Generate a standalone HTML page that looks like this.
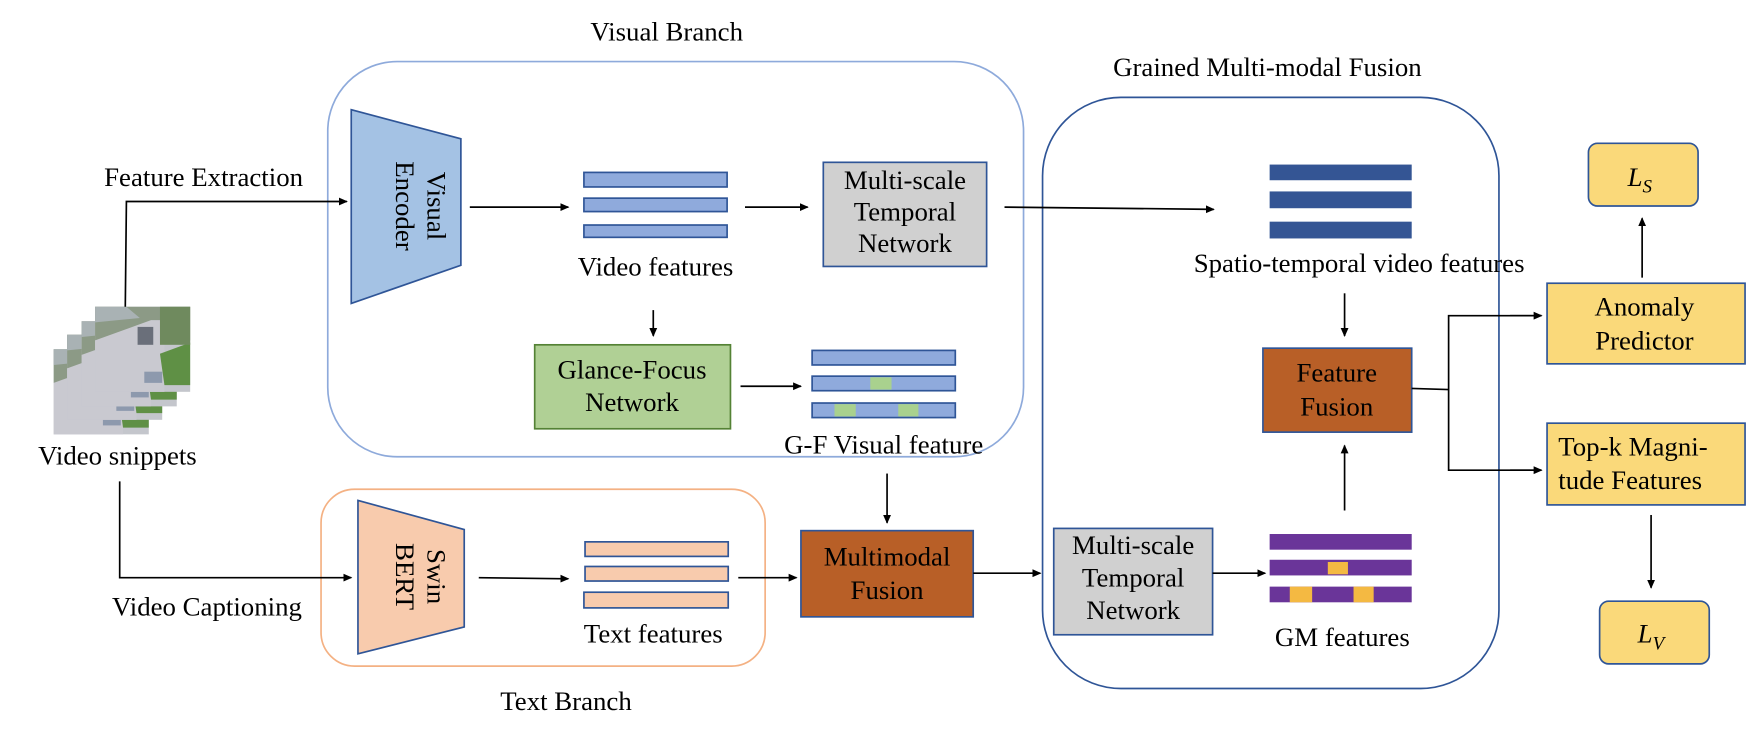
<!DOCTYPE html>
<html><head><meta charset="utf-8"><style>
html,body{margin:0;padding:0;background:#fff;}
svg{display:block;}
text{font-family:"Liberation Serif",serif;font-size:24px;fill:#000;}
</style></head><body>
<svg width="1754" height="740" viewBox="0 0 1568 661" preserveAspectRatio="none" xmlns="http://www.w3.org/2000/svg">
<defs>
<marker id="a" markerWidth="8" markerHeight="8" refX="7" refY="4" orient="auto" markerUnits="userSpaceOnUse"><path d="M0,0.5 L8,4 L0,7.5 Z" fill="#000"/></marker>
<g id="frame">
<rect x="0" y="0" width="85" height="76" fill="#c4c6cc"/>
<rect x="0" y="0" width="85" height="30" fill="#8c9a86"/>
<polygon points="0,0 28,0 40,10 0,14" fill="#a9b2b4"/>
<polygon points="0,30 50,12 62,12 62,76 0,76" fill="#c9c9d0"/>
<polygon points="58,42 85,32 85,70 62,70" fill="#5f9045"/>
<rect x="58" y="0" width="27" height="34" fill="#6f8a5e"/>
<rect x="38" y="18" width="14" height="16" fill="#6a6f7a"/>
<rect x="44" y="58" width="16" height="10" fill="#8d99ad"/>
</g>
</defs>
<!-- headers -->
<text x="596" y="36" text-anchor="middle">Visual Branch</text>
<text x="1133" y="68" text-anchor="middle">Grained Multi-modal Fusion</text>
<text x="506" y="634" text-anchor="middle">Text Branch</text>

<!-- containers -->
<rect x="293" y="55" width="622" height="353" rx="62" fill="none" stroke="#8eaadb" stroke-width="1.5"/>
<rect x="287" y="437" width="397" height="158" rx="30" fill="none" stroke="#f4b183" stroke-width="1.5"/>
<rect x="932" y="87" width="408" height="528" rx="70" fill="none" stroke="#2f5597" stroke-width="1.5"/>

<!-- snippets -->
<use href="#frame" x="48" y="312"/>
<use href="#frame" x="60" y="299"/>
<use href="#frame" x="73" y="287"/>
<use href="#frame" x="85" y="274"/>
<text x="105" y="415" text-anchor="middle">Video snippets</text>

<!-- feature extraction -->
<polyline points="112,274 113,180 310,180" fill="none" stroke="#000" stroke-width="1.5" marker-end="url(#a)"/>
<text x="182" y="166" text-anchor="middle">Feature Extraction</text>
<polyline points="107,430 107,516 314,516" fill="none" stroke="#000" stroke-width="1.5" marker-end="url(#a)"/>
<text x="185" y="550" text-anchor="middle">Video Captioning</text>

<!-- visual encoder -->
<polygon points="314,98 412,124 412,237 314,271" fill="#a4c2e4" stroke="#2f5597" stroke-width="1.5"/>
<text transform="translate(374,184) rotate(90)" text-anchor="middle" y="-8">Visual</text>
<text transform="translate(374,184) rotate(90)" text-anchor="middle" y="20">Encoder</text>
<line x1="420" y1="185" x2="508" y2="185" stroke="#000" stroke-width="1.5" marker-end="url(#a)"/>

<!-- video features -->
<rect x="522" y="154" width="128" height="13" fill="#8faadc" stroke="#2f5597" stroke-width="1.5"/>
<rect x="522" y="177" width="128" height="12" fill="#8faadc" stroke="#2f5597" stroke-width="1.5"/>
<rect x="522" y="201" width="128" height="11" fill="#8faadc" stroke="#2f5597" stroke-width="1.5"/>
<text x="586" y="246" text-anchor="middle">Video features</text>
<line x1="666" y1="185" x2="722" y2="185" stroke="#000" stroke-width="1.5" marker-end="url(#a)"/>

<rect x="736" y="145" width="146" height="93" fill="#d0d0d0" stroke="#2f5597" stroke-width="1.5"/>
<text x="809" y="169" text-anchor="middle">Multi-scale</text>
<text x="809" y="197" text-anchor="middle">Temporal</text>
<text x="809" y="225" text-anchor="middle">Network</text>
<line x1="898" y1="185" x2="1085" y2="187" stroke="#000" stroke-width="1.5" marker-end="url(#a)"/>

<line x1="584" y1="277" x2="584" y2="300" stroke="#000" stroke-width="1.5" marker-end="url(#a)"/>
<rect x="478" y="308" width="175" height="75" fill="#b0d095" stroke="#548235" stroke-width="1.5"/>
<text x="565" y="338" text-anchor="middle">Glance-Focus</text>
<text x="565" y="367" text-anchor="middle">Network</text>
<line x1="662" y1="345" x2="716" y2="345" stroke="#000" stroke-width="1.5" marker-end="url(#a)"/>

<rect x="726" y="313" width="128" height="13" fill="#8faadc" stroke="#2f5597" stroke-width="1.5"/>
<rect x="726" y="336" width="128" height="13" fill="#8faadc" stroke="#2f5597" stroke-width="1.5"/>
<rect x="778" y="337" width="19" height="11" fill="#a9d18e"/>
<rect x="726" y="360" width="128" height="13" fill="#8faadc" stroke="#2f5597" stroke-width="1.5"/>
<rect x="746" y="361" width="19" height="11" fill="#a9d18e"/>
<rect x="803" y="361" width="18" height="11" fill="#a9d18e"/>
<text x="790" y="405" text-anchor="middle">G-F Visual feature</text>
<line x1="793" y1="423" x2="793" y2="467" stroke="#000" stroke-width="1.5" marker-end="url(#a)"/>

<!-- text branch -->
<polygon points="320,447 415,473 415,560 320,584" fill="#f8cbad" stroke="#2f5597" stroke-width="1.5"/>
<text transform="translate(374,515) rotate(90)" text-anchor="middle" y="-8">Swin</text>
<text transform="translate(374,515) rotate(90)" text-anchor="middle" y="20">BERT</text>
<line x1="428" y1="516" x2="508" y2="517" stroke="#000" stroke-width="1.5" marker-end="url(#a)"/>
<rect x="523" y="484" width="128" height="13" fill="#f8cbad" stroke="#2f5597" stroke-width="1.5"/>
<rect x="523" y="506" width="128" height="13" fill="#f8cbad" stroke="#2f5597" stroke-width="1.5"/>
<rect x="522" y="529" width="129" height="14" fill="#f8cbad" stroke="#2f5597" stroke-width="1.5"/>
<text x="584" y="574" text-anchor="middle">Text features</text>
<line x1="660" y1="516" x2="712" y2="516" stroke="#000" stroke-width="1.5" marker-end="url(#a)"/>

<rect x="716" y="474" width="154" height="77" fill="#b85f27" stroke="#2f5597" stroke-width="1.5"/>
<text x="793" y="505" text-anchor="middle">Multimodal</text>
<text x="793" y="535" text-anchor="middle">Fusion</text>
<line x1="870" y1="512" x2="930" y2="512" stroke="#000" stroke-width="1.5" marker-end="url(#a)"/>

<!-- GMF -->
<rect x="942" y="472" width="142" height="95" fill="#d0d0d0" stroke="#2f5597" stroke-width="1.5"/>
<text x="1013" y="495" text-anchor="middle">Multi-scale</text>
<text x="1013" y="524" text-anchor="middle">Temporal</text>
<text x="1013" y="553" text-anchor="middle">Network</text>
<line x1="1084" y1="512" x2="1131" y2="512" stroke="#000" stroke-width="1.5" marker-end="url(#a)"/>

<rect x="1135" y="147" width="127" height="14" fill="#345594"/>
<rect x="1135" y="171" width="127" height="15" fill="#345594"/>
<rect x="1135" y="198" width="127" height="15" fill="#345594"/>
<text x="1215" y="243" text-anchor="middle">Spatio-temporal video features</text>
<line x1="1202" y1="262" x2="1202" y2="300" stroke="#000" stroke-width="1.5" marker-end="url(#a)"/>

<rect x="1129" y="311" width="133" height="75" fill="#b85f27" stroke="#2f5597" stroke-width="1.5"/>
<text x="1195" y="341" text-anchor="middle">Feature</text>
<text x="1195" y="371" text-anchor="middle">Fusion</text>
<line x1="1202" y1="456" x2="1202" y2="398" stroke="#000" stroke-width="1.5" marker-end="url(#a)"/>

<rect x="1135" y="477" width="127" height="14" fill="#6a3599"/>
<rect x="1135" y="500" width="127" height="14" fill="#6a3599"/>
<rect x="1187" y="502" width="18" height="11" fill="#f4b942"/>
<rect x="1135" y="524" width="127" height="14" fill="#6a3599"/>
<rect x="1153" y="524" width="20" height="14" fill="#f4b942"/>
<rect x="1210" y="524" width="18" height="14" fill="#f4b942"/>
<text x="1200" y="577" text-anchor="middle">GM features</text>

<polyline points="1262,347 1295,348" fill="none" stroke="#000" stroke-width="1.5"/>
<polyline points="1378,282 1295,282 1295,420 1378,420" fill="none" stroke="#000" stroke-width="1.5"/>
<line x1="1350" y1="282" x2="1378" y2="282" stroke="#000" stroke-width="1.5" marker-end="url(#a)"/>
<line x1="1350" y1="420" x2="1378" y2="420" stroke="#000" stroke-width="1.5" marker-end="url(#a)"/>

<rect x="1383" y="253" width="177" height="72" fill="#fad97a" stroke="#2f5597" stroke-width="1.5"/>
<text x="1470" y="282" text-anchor="middle">Anomaly</text>
<text x="1470" y="312" text-anchor="middle">Predictor</text>
<rect x="1383" y="378" width="177" height="73" fill="#fad97a" stroke="#2f5597" stroke-width="1.5"/>
<text x="1393" y="407">Top-k Magni-</text>
<text x="1393" y="437">tude Features</text>

<line x1="1468" y1="248" x2="1468" y2="195" stroke="#000" stroke-width="1.5" marker-end="url(#a)"/>
<rect x="1420" y="128" width="98" height="56" rx="8" fill="#fad97a" stroke="#2f5597" stroke-width="1.5"/>
<text x="1455" y="166" font-style="italic">L<tspan font-size="17" dy="6">S</tspan></text>

<line x1="1476" y1="460" x2="1476" y2="525" stroke="#000" stroke-width="1.5" marker-end="url(#a)"/>
<rect x="1430" y="537" width="98" height="56" rx="8" fill="#fad97a" stroke="#2f5597" stroke-width="1.5"/>
<text x="1464" y="574" font-style="italic">L<tspan font-size="17" dy="6">V</tspan></text>
</svg>
</body></html>
